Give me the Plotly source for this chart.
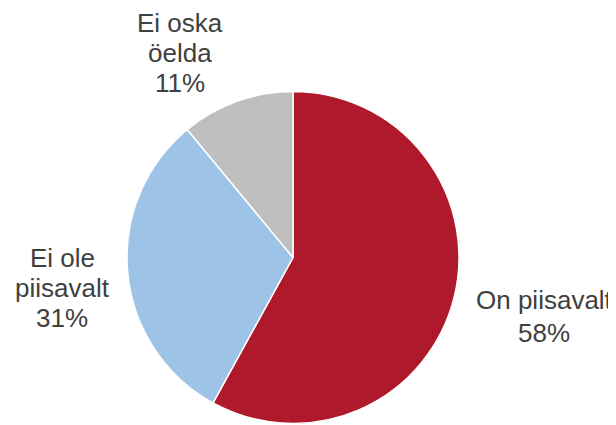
import plotly.graph_objects as go

labels = ["On piisavalt", "Ei ole piisavalt", "Ei oska öelda"]
values = [58, 31, 11]
colors = ["#AE1A2B", "#9DC3E6", "#BFBFBF"]
label_lines = [["On piisavalt"], ["Ei ole", "piisavalt"], ["Ei oska", "öelda"]]

W, H = 616, 425
OFF = 8  # browser body margin offset

# layout: screen-pixel centres of the label blocks (x, first line y, line step)
label_layout = [(544, 300, 33), (62, 258, 30), (180, 23, 30)]

# pie geometry in screen pixels
cx, cy, r = 293, 257.5, 166
cx -= OFF
cy -= OFF

fig = go.Figure(go.Pie(
    labels=labels,
    values=values,
    marker=dict(colors=colors, line=dict(color="white", width=1.5)),
    sort=False,
    direction="clockwise",
    rotation=0,
    textinfo="none",
    hoverinfo="label+percent",
    domain=dict(x=[(cx - r) / W, (cx + r) / W], y=[1 - (cy + r) / H, 1 - (cy - r) / H]),
    showlegend=False,
))

total = sum(values)
font = dict(family="Liberation Sans, Arial, sans-serif", size=26, color="#404040")
for lines, v, (px, py, step) in zip(label_lines, values, label_layout):
    all_lines = lines + [f"{round(100 * v / total)}%"]
    for i, t in enumerate(all_lines):
        y = py + i * step - OFF
        fig.add_annotation(
            x=(px - OFF) / W, y=1 - y / H, xref="paper", yref="paper",
            text=t, showarrow=False, xanchor="center", yanchor="middle",
            font=font,
        )

fig.update_layout(
    width=W, height=H,
    margin=dict(l=0, r=0, t=0, b=0),
    paper_bgcolor="white",
    plot_bgcolor="white",
)

fig.write_html("out.html")
